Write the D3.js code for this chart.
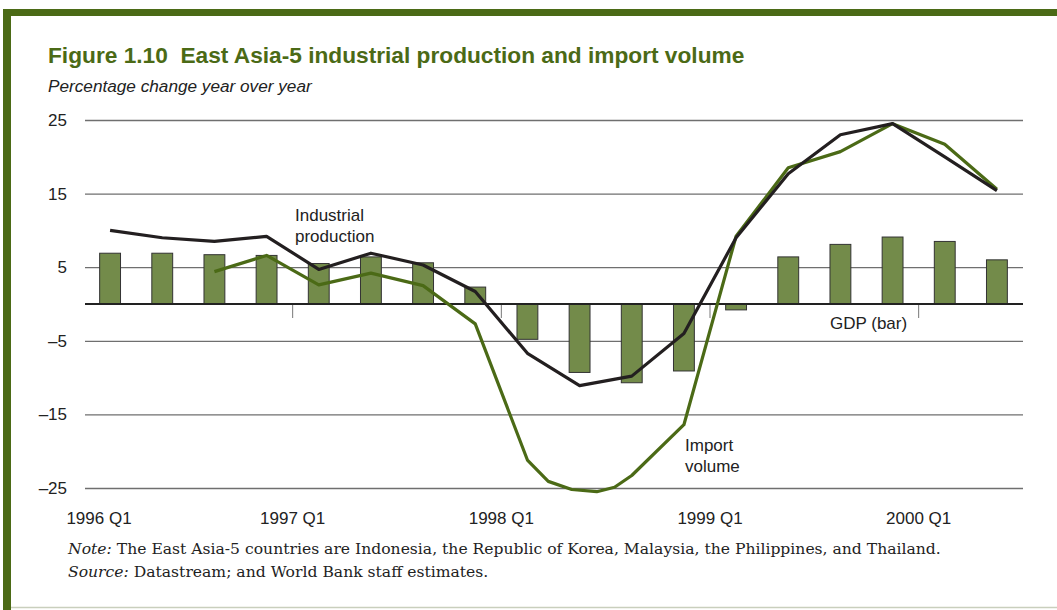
<!DOCTYPE html>
<html>
<head>
<meta charset="utf-8">
<script src="https://cdn.jsdelivr.net/npm/d3@7"></script>
<style>
  body { margin: 0; background: #fff; }
  svg { display: block; }
  .sans { font-family: "Liberation Sans", Arial, sans-serif; }
  .serif { font-family: "DejaVu Serif", serif; }
</style>
</head>
<body>
<div id="container"></div>
<script>
// data
var quarters = ["1996 Q1", "1996 Q2", "1996 Q3", "1996 Q4",
  "1997 Q1", "1997 Q2", "1997 Q3", "1997 Q4",
  "1998 Q1", "1998 Q2", "1998 Q3", "1998 Q4",
  "1999 Q1", "1999 Q2", "1999 Q3", "1999 Q4",
  "2000 Q1", "2000 Q2"];
var gdp = [6.9, 6.9, 6.7, 6.6, 5.5, 6.4, 5.6, 2.3, -4.8, -9.3, -10.7, -9.1, -0.8, 6.4, 8.1, 9.1, 8.5, 6.0];
var industrial = [10.0, 9.0, 8.5, 9.2, 4.7, 6.9, 5.3, 1.7, -6.7, -11.1, -9.8, -4.0, 9.0, 17.7, 23.0, 24.5, 20.0, 15.4];
// import volume: position in quarters from 1996 Q1, some monthly points in 1998
var importPos = [2, 3, 4, 5, 6, 7, 8, 8.4, 8.85, 9.33, 9.67, 10, 11, 12, 13, 14, 15, 16, 17];
var importVal = [4.4, 6.6, 2.6, 4.2, 2.5, -2.7, -21.2, -24.1, -25.2, -25.5, -24.9, -23.3, -16.4, 9.2, 18.5, 20.7, 24.5, 21.7, 15.6];
var yTicks = [25, 15, 5, -5, -15, -25];
var yearLabels = ["1996 Q1", "1997 Q1", "1998 Q1", "1999 Q1", "2000 Q1"];

var W = 1057, H = 610;
var green = "#4b6a16", barFill = "#738b4a";
var fs = 17; // label size

var svg = d3.select("#container").append("svg")
  .attr("width", W)
  .attr("height", H)

// frame
svg.append("rect").attr("x", 3).attr("y", 9).attr("width", W - 3).attr("height", 7).attr("fill", green)
svg.append("rect").attr("x", 3).attr("y", 9).attr("width", 8).attr("height", H - 9).attr("fill", green)
svg.append("line").attr("x1", 11).attr("x2", W).attr("y1", 607.5).attr("y2", 607.5)
  .attr("stroke", "#c9cfbd").attr("stroke-width", 1.5)

// titles
svg.append("text").attr("class", "sans")
  .attr("x", 48).attr("y", 63)
  .attr("font-size", 22.7).attr("font-weight", "bold").attr("fill", green)
  .attr("xml:space", "preserve")
  .text("Figure 1.10  East Asia-5 industrial production and import volume")
svg.append("text").attr("class", "sans")
  .attr("x", 48).attr("y", 92)
  .attr("font-size", 17.2).attr("font-style", "italic").attr("fill", "#222")
  .text("Percentage change year over year")

// scales
var x = d3.scaleBand()
  .domain(quarters)
  .range([84, 1023])
  .paddingInner(0.6)
  .paddingOuter(0.3);
var xi = d3.scaleLinear()
  .domain([0, quarters.length - 1])
  .range([x(quarters[0]) + x.bandwidth() / 2, x(quarters[quarters.length - 1]) + x.bandwidth() / 2]);
var y = d3.scaleLinear()
  .domain([-25, 25])
  .range([488, 120]);

function boundary(q) {
  return x(q) + x.bandwidth() / 2 - x.step() / 2;
}

// gridlines + y labels
var yAxis = d3.axisLeft(y).tickValues(yTicks).tickSize(-(1023 - 85))
  .tickFormat(function(d) { return d < 0 ? "\u2013" + Math.abs(d) : d; });
var gy = svg.append("g").attr("transform", "translate(85,0)").call(yAxis)
gy.select(".domain").remove()
gy.selectAll(".tick line").attr("stroke", "#6f6f6f").attr("stroke-width", 1.3)
gy.selectAll(".tick text")
  .attr("class", "sans").attr("x", -18).attr("font-size", fs).attr("fill", "#222")

// GDP bars
svg.append("g").selectAll("rect")
  .data(gdp).enter()
  .append("rect")
  .attr("x", function(d, i) { return x(quarters[i]); })
  .attr("width", x.bandwidth())
  .attr("y", function(d) { return y(Math.max(0, d)); })
  .attr("height", function(d) { return Math.abs(y(d) - y(0)); })
  .attr("fill", barFill)
  .attr("stroke", "#333")
  .attr("stroke-width", 1)

// zero line
svg.append("line")
  .attr("x1", 85).attr("x2", 1023).attr("y1", y(0)).attr("y2", y(0))
  .attr("stroke", "#222").attr("stroke-width", 1.8)

// year ticks under zero line
svg.append("g").selectAll("line")
  .data(yearLabels.slice(1)).enter()
  .append("line")
  .attr("x1", function(d) { return boundary(d); })
  .attr("x2", function(d) { return boundary(d); })
  .attr("y1", y(0) + 1).attr("y2", y(0) + 14)
  .attr("stroke", "#777").attr("stroke-width", 1)

// x labels
svg.append("g").selectAll("text")
  .data(yearLabels).enter()
  .append("text")
  .attr("class", "sans")
  .attr("x", function(d, i) { return i == 0 ? boundary(d) + 15 : boundary(d); })
  .attr("y", 524)
  .attr("text-anchor", "middle")
  .attr("font-size", fs).attr("fill", "#222")
  .text(function(d) { return d; })

// lines
var line = d3.line()
  .x(function(d) { return xi(d[0]); })
  .y(function(d) { return y(d[1]); });

svg.append("path")
  .attr("d", line(importPos.map(function(p, i) { return [p, importVal[i]]; })))
  .attr("fill", "none").attr("stroke", green).attr("stroke-width", 3.2)
  .attr("stroke-linejoin", "round")

svg.append("path")
  .attr("d", line(industrial.map(function(v, i) { return [i, v]; })))
  .attr("fill", "none").attr("stroke", "#231f20").attr("stroke-width", 3.2)
  .attr("stroke-linejoin", "round")

// annotations
function note(lines, x0, y0) {
  var t = svg.append("text").attr("class", "sans")
    .attr("x", x0).attr("y", y0).attr("font-size", fs).attr("fill", "#222")
  lines.forEach(function(s, i) {
    t.append("tspan").attr("x", x0).attr("dy", i == 0 ? 0 : 21).text(s)
  })
}
note(["Industrial", "production"], 295, 221)
note(["Import", "volume"], 685, 451)
note(["GDP (bar)"], 830, 329)

// footnote
var f1 = svg.append("text").attr("class", "serif").attr("x", 68).attr("y", 554)
  .attr("font-size", 15.6).attr("fill", "#222")
f1.append("tspan").attr("font-style", "italic").text("Note:")
f1.append("tspan").text(" The East Asia-5 countries are Indonesia, the Republic of Korea, Malaysia, the Philippines, and Thailand.")
var f2 = svg.append("text").attr("class", "serif").attr("x", 68).attr("y", 577)
  .attr("font-size", 15.6).attr("fill", "#222")
f2.append("tspan").attr("font-style", "italic").text("Source:")
f2.append("tspan").text(" Datastream; and World Bank staff estimates.")
</script>
</body>
</html>
